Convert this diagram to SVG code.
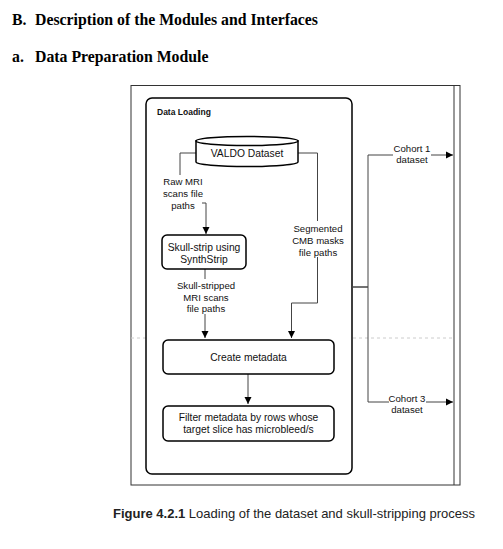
<svg xmlns="http://www.w3.org/2000/svg" width="503" height="549" viewBox="0 0 503 549">
<style>
.h{font-family:"Liberation Serif","Times New Roman",serif;font-weight:bold;font-size:15.8px;fill:#000}
.t{font-family:"Liberation Sans",Arial,sans-serif;font-size:10.3px;fill:#111;text-anchor:middle}
.l{font-family:"Liberation Sans",Arial,sans-serif;font-size:9.6px;fill:#111;text-anchor:middle}
.box{fill:#fff;stroke:#000;stroke-width:1.5}
.edge{fill:none;stroke:#444;stroke-width:1}
.bg{fill:#fff;stroke:none}
</style>
<defs>
<marker id="arr" markerUnits="userSpaceOnUse" markerWidth="8" markerHeight="8" refX="7" refY="4" orient="auto">
<path d="M0,0.5 L7,4 L0,7.5 Z" fill="#000"/>
</marker>
</defs>
<rect width="503" height="549" fill="#fff"/>
<text class="h" x="12" y="25">B.</text>
<text class="h" x="35" y="25">Description of the Modules and Interfaces</text>
<text class="h" x="12" y="62">a.</text>
<text class="h" x="35" y="62">Data Preparation Module</text>

<g id="frame">
<rect x="131" y="85.5" width="329" height="399.5" fill="#fff" stroke="#333" stroke-width="1"/>
<line x1="454" y1="85.5" x2="454" y2="485" stroke="#333" stroke-width="1"/>
<line x1="131" y1="338" x2="454" y2="338" stroke="#ccc" stroke-width="1" stroke-dasharray="3,3"/>
</g>

<g id="data-loading">
<rect class="box" x="146" y="98" width="206" height="376" rx="6"/>
<text x="157" y="115" style="font-family:'Liberation Sans',Arial,sans-serif;font-size:8.5px;font-weight:bold;fill:#111">Data Loading</text>
</g>

<g id="connectors">
<path class="edge" d="M196,153 H180 V203 H206 V234" marker-end="url(#arr)"/>
<path class="edge" d="M298,153 H317.5 V303 H291.5 V338" marker-end="url(#arr)"/>
<path class="edge" d="M205,269 V338" marker-end="url(#arr)"/>
<path class="edge" d="M248,374 V404" marker-end="url(#arr)"/>
<path class="edge" d="M352,287 H368 V155 H453" marker-end="url(#arr)" stroke="#222"/>
<path class="edge" d="M352,287 H368 V402 H453" marker-end="url(#arr)" stroke="#222"/>
<rect class="bg" x="162" y="175" width="40" height="35"/>
<rect class="bg" x="293" y="221" width="49" height="36"/>
<rect class="bg" x="176" y="279" width="60" height="35"/>
<rect class="bg" x="393" y="143" width="38" height="22"/>
<rect class="bg" x="389" y="393" width="37" height="22"/>
<text class="l"><tspan x="183" y="184.5">Raw MRI</tspan><tspan x="183" y="196.5">scans file</tspan><tspan x="183" y="208.5">paths</tspan></text>
<text class="l"><tspan x="318" y="231.5">Segmented</tspan><tspan x="318" y="243.5">CMB masks</tspan><tspan x="318" y="255.5">file paths</tspan></text>
<text class="l"><tspan x="206" y="288.5">Skull-stripped</tspan><tspan x="206" y="300.5">MRI scans</tspan><tspan x="206" y="312">file paths</tspan></text>
<text class="l"><tspan x="412" y="151.5">Cohort 1</tspan><tspan x="412" y="162.5">dataset</tspan></text>
<text class="l"><tspan x="407" y="401.5">Cohort 3</tspan><tspan x="407" y="412.5">dataset</tspan></text>
</g>

<g id="valdo">
<path d="M196,141 L196,162 A51,4.5 0 0 0 298,162 L298,141 Z" fill="#fff" stroke="#000" stroke-width="1.5"/>
<ellipse cx="247" cy="141" rx="51" ry="4.5" fill="#fff" stroke="#000" stroke-width="1.5"/>
<text class="t" x="247" y="156.5">VALDO Dataset</text>
</g>

<g id="skull-strip">
<rect class="box" x="162" y="235" width="84" height="34" rx="5"/>
<text class="t"><tspan x="204" y="250.5">Skull-strip using</tspan><tspan x="204" y="262.5">SynthStrip</tspan></text>
</g>

<g id="create-metadata">
<rect class="box" x="163" y="340" width="171" height="34" rx="5"/>
<text class="t" x="248.5" y="360.5">Create metadata</text>
</g>

<g id="filter-metadata">
<rect class="box" x="163" y="406" width="171" height="35" rx="5"/>
<text class="t"><tspan x="248.5" y="420.5">Filter metadata by rows whose</tspan><tspan x="248.5" y="432.5">target slice has microbleed/s</tspan></text>
</g>

<text x="113" y="518" style="font-family:'Liberation Sans',Arial,sans-serif;font-size:13px;fill:#222"><tspan font-weight="bold">Figure 4.2.1</tspan> Loading of the dataset and skull-stripping process</text>
</svg>
